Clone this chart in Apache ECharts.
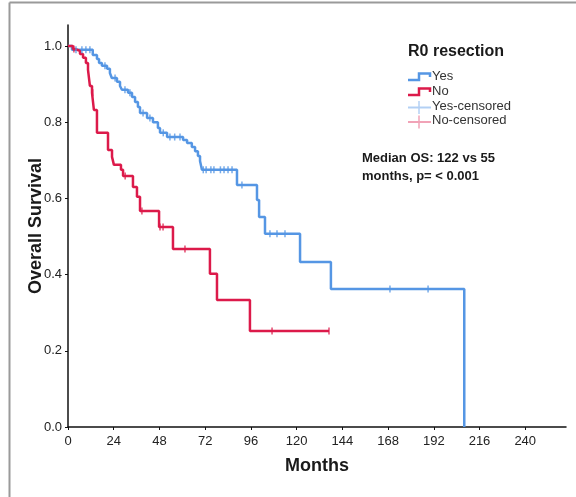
<!DOCTYPE html>
<html>
<head>
<meta charset="utf-8">
<script src="https://cdn.jsdelivr.net/npm/echarts@6/dist/echarts.min.js"></script>
<style>
html,body{margin:0;padding:0;background:#fff;}
#chart{width:576px;height:497px;}
</style>
</head>
<body>
<div id="chart"></div>
<script>
// ---- Data ----
var xTicks = [0, 24, 48, 72, 96, 120, 144, 168, 192, 216, 240];
var yTicks = [0.0, 0.2, 0.4, 0.6, 0.8, 1.0];

var yesTimes = [0, 2.1, 13, 15.2, 16.3, 17.8, 20.5, 22, 23, 25.7, 27.3, 28.3, 31.5, 33.6, 35.2, 36.7, 37.8, 41.5, 44.6, 47.2, 48.3, 52, 60.4, 62.5, 65, 66.7, 68.2, 69.3, 70.3, 88.7, 99.2, 100.3, 103.4, 121.8, 138, 208];
var yesSurv  = [1, 0.99, 0.976, 0.966, 0.955, 0.948, 0.94, 0.929, 0.916, 0.906, 0.895, 0.885, 0.877, 0.866, 0.853, 0.84, 0.824, 0.811, 0.8, 0.785, 0.772, 0.761, 0.753, 0.745, 0.735, 0.724, 0.711, 0.698, 0.675, 0.635, 0.596, 0.551, 0.507, 0.433, 0.362, 0];
var yesCensored = [4.2, 7.3, 9.4, 11.5, 19.4, 24.7, 29.9, 32.5, 39.4, 43, 50, 53.5, 56, 58.8, 71, 72.5, 75, 76.6, 80, 81.9, 84, 86.1, 91.3, 106, 109.7, 113.9, 169, 189];

var noTimes = [0, 2.6, 3.7, 6.3, 7.9, 9.4, 10.5, 11.5, 12.6, 13.6, 15.2, 21, 23.1, 24.1, 27.8, 28.9, 34.1, 36.2, 37.8, 47.8, 55.1, 74.5, 78.2, 95.5, 137];
var noSurv  = [1, 0.992, 0.987, 0.979, 0.969, 0.955, 0.937, 0.895, 0.877, 0.832, 0.772, 0.727, 0.709, 0.688, 0.675, 0.659, 0.63, 0.604, 0.567, 0.525, 0.467, 0.402, 0.333, 0.252, 0.252];
var noCensored = [3.1, 13, 30, 38.8, 48.3, 49.9, 61.4, 107.1, 137];

var seriesNames = ['Yes', 'No', 'Yes-censored', 'No-censored'];
var legendTitle = 'R0 resection';
var annotation = ['Median OS: 122 vs 55', 'months, p= < 0.001'];

// ---- Build ----
function zip(t, s) { return t.map(function (v, i) { return [v, s[i]]; }); }
function survAt(t, times, surv) {
  var v = surv[0];
  for (var i = 0; i < times.length; i++) { if (times[i] <= t) v = surv[i]; }
  return v;
}
function censorPts(c, times, surv) { return c.map(function (t) { return [t, survAt(t, times, surv)]; }); }

var BLUE = '#5596e4', RED = '#dc1a4a';
var BLUE_L = '#b3d0f4', RED_L = '#f1a3b7';
var FONT = '"Liberation Sans", Arial, Helvetica, sans-serif';

var chart = echarts.init(document.getElementById('chart'), null, {renderer: 'canvas'});
chart.setOption({
  animation: false,
  backgroundColor: '#fff',
  textStyle: {fontFamily: FONT},
  grid: {left: 68, right: 10, top: 25, bottom: 70},
  xAxis: {
    type: 'value', min: 0, max: 261.4, interval: 24,
    name: 'Months', nameLocation: 'middle', nameGap: 30, nameMoveOverlap: false,
    nameTextStyle: {fontSize: 18, fontWeight: 'bold', color: '#1a1a1a', fontFamily: FONT},
    axisLine: {show: true, lineStyle: {color: '#111', width: 1.5}},
    axisTick: {show: true, length: 3, lineStyle: {color: '#111'}},
    axisLabel: {fontSize: 13, color: '#222', margin: 8, showMaxLabel: false,
      formatter: function (v) { return xTicks.indexOf(v) >= 0 ? String(v) : ''; }},
    splitLine: {show: false}
  },
  yAxis: {
    type: 'value', min: 0, max: 1.055, interval: 0.2,
    name: 'Overall Survival', nameLocation: 'middle', nameGap: 23, nameMoveOverlap: false,
    nameTextStyle: {fontSize: 18, fontWeight: 'bold', color: '#1a1a1a', fontFamily: FONT},
    axisLine: {show: true, lineStyle: {color: '#111', width: 1.5}},
    axisTick: {show: true, length: 3, lineStyle: {color: '#111'}},
    axisLabel: {fontSize: 13, color: '#222', margin: 6, showMaxLabel: false,
      formatter: function (v) {
        for (var i = 0; i < yTicks.length; i++) { if (Math.abs(yTicks[i] - v) < 1e-6) return yTicks[i].toFixed(1); }
        return '';
      }},
    splitLine: {show: false}
  },
  series: [
    {name: seriesNames[0], type: 'line', step: 'end', showSymbol: false, data: zip(yesTimes, yesSurv),
      lineStyle: {color: BLUE, width: 2.5}, z: 3},
    {name: seriesNames[1], type: 'line', step: 'end', showSymbol: false, data: zip(noTimes, noSurv),
      lineStyle: {color: RED, width: 2.5}, z: 4},
    {name: seriesNames[2], type: 'scatter', data: censorPts(yesCensored, yesTimes, yesSurv),
      symbol: 'rect', symbolSize: [1.5, 7], itemStyle: {color: BLUE}, z: 5},
    {name: seriesNames[3], type: 'scatter', data: censorPts(noCensored, noTimes, noSurv),
      symbol: 'rect', symbolSize: [1.5, 7], itemStyle: {color: RED}, z: 6}
  ],
  graphic: [
    // frame
    {type: 'line', shape: {x1: 9.5, y1: 2.5, x2: 576, y2: 2.5}, style: {stroke: '#9a9a9a', lineWidth: 2}},
    {type: 'line', shape: {x1: 9.5, y1: 2.5, x2: 9.5, y2: 497}, style: {stroke: '#9a9a9a', lineWidth: 2}},
    // legend
    {type: 'text', left: 408, top: 44, style: {text: legendTitle, font: 'bold 16px ' + FONT, fill: '#1a1a1a'}},
    {type: 'polyline', shape: {points: [[408, 80], [419, 80], [419, 73.5], [430, 73.5], [430, 77]]}, style: {stroke: BLUE, lineWidth: 2.5, fill: null}},
    {type: 'text', left: 432, top: 70, style: {text: seriesNames[0], font: '13px ' + FONT, fill: '#333'}},
    {type: 'polyline', shape: {points: [[408, 95], [419, 95], [419, 88.5], [430, 88.5], [430, 92]]}, style: {stroke: RED, lineWidth: 2.5, fill: null}},
    {type: 'text', left: 432, top: 85, style: {text: seriesNames[1], font: '13px ' + FONT, fill: '#333'}},
    {type: 'line', shape: {x1: 408, y1: 107.5, x2: 431, y2: 107.5}, style: {stroke: BLUE_L, lineWidth: 2}},
    {type: 'line', shape: {x1: 419, y1: 101, x2: 419, y2: 114}, style: {stroke: BLUE_L, lineWidth: 1.5}},
    {type: 'text', left: 432, top: 100, style: {text: seriesNames[2], font: '13px ' + FONT, fill: '#333'}},
    {type: 'line', shape: {x1: 408, y1: 122, x2: 431, y2: 122}, style: {stroke: RED_L, lineWidth: 2}},
    {type: 'line', shape: {x1: 419, y1: 115.5, x2: 419, y2: 128.5}, style: {stroke: RED_L, lineWidth: 1.5}},
    {type: 'text', left: 432, top: 114, style: {text: seriesNames[3], font: '13px ' + FONT, fill: '#333'}},
    // annotation
    {type: 'text', left: 362, top: 152, style: {text: annotation[0], font: 'bold 13px ' + FONT, fill: '#1a1a1a'}},
    {type: 'text', left: 362, top: 170, style: {text: annotation[1], font: 'bold 13px ' + FONT, fill: '#1a1a1a'}}
  ]
});
</script>
</body>
</html>
